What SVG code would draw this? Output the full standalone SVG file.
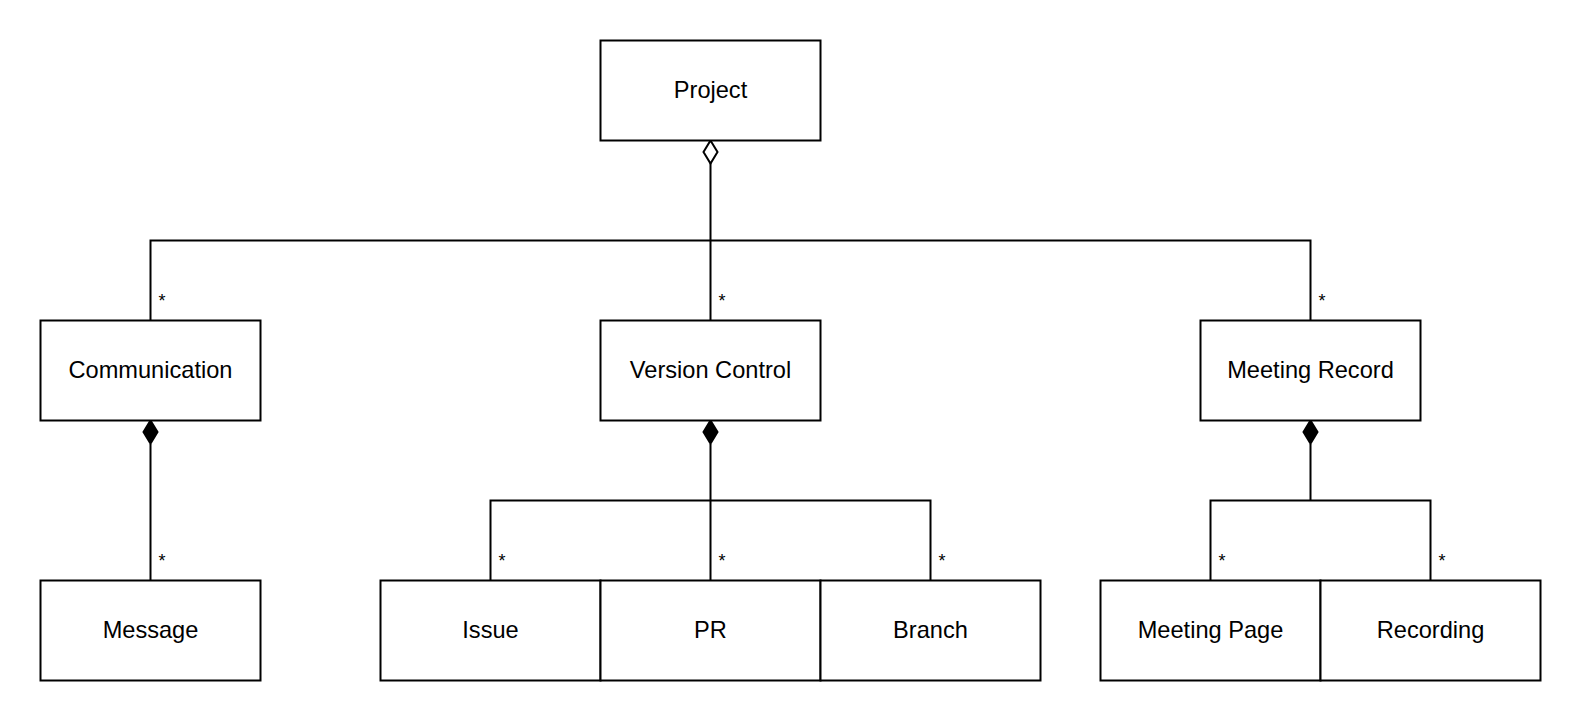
<svg xmlns="http://www.w3.org/2000/svg" width="1582" height="722" viewBox="0 0 1582 722">
<style>
.box{fill:#fff;stroke:#000;stroke-width:2}
.lbl{font-family:"Liberation Sans",Arial,sans-serif;font-size:23.6px;fill:#000;text-anchor:middle}
.m{font-family:"Liberation Sans",Arial,sans-serif;font-size:18px;fill:#000}
.ln{fill:none;stroke:#000;stroke-width:2}
.od{fill:#fff;stroke:#000;stroke-width:2}
.fd{fill:#000;stroke:#000;stroke-width:2}
</style>
<rect width="1582" height="722" fill="#fff"/>
<g id="connectors">
  <path class="ln" d="M710.5 163 V240.5 M150.5 320.5 V240.5 H1310.5 V320.5 M710.5 240.5 V320.5"/>
  <path class="od" d="M710.5 140.5 L717.5 152 L710.5 163.5 L703.5 152 Z"/>
  <path class="ln" d="M150.5 444 V580.5"/>
  <path class="fd" d="M150.5 420.5 L157.5 432 L150.5 443.5 L143.5 432 Z"/>
  <path class="ln" d="M710.5 444 V580.5 M490.5 580.5 V500.5 H930.5 V580.5"/>
  <path class="fd" d="M710.5 420.5 L717.5 432 L710.5 443.5 L703.5 432 Z"/>
  <path class="ln" d="M1310.5 444 V500.5 M1210.5 580.5 V500.5 H1430.5 V580.5"/>
  <path class="fd" d="M1310.5 420.5 L1317.5 432 L1310.5 443.5 L1303.5 432 Z"/>
  <text class="m" x="158.5" y="307">*</text>
  <text class="m" x="718.5" y="307">*</text>
  <text class="m" x="1318.5" y="307">*</text>
  <text class="m" x="158.5" y="567">*</text>
  <text class="m" x="498.5" y="567">*</text>
  <text class="m" x="718.5" y="567">*</text>
  <text class="m" x="938.5" y="567">*</text>
  <text class="m" x="1218.5" y="567">*</text>
  <text class="m" x="1438.5" y="567">*</text>
</g>
<g id="project"><rect class="box" x="600.5" y="40.5" width="220" height="100"/><text class="lbl" x="710.5" y="98">Project</text></g>
<g id="communication"><rect class="box" x="40.5" y="320.5" width="220" height="100"/><text class="lbl" x="150.5" y="378">Communication</text></g>
<g id="version-control"><rect class="box" x="600.5" y="320.5" width="220" height="100"/><text class="lbl" x="710.5" y="378">Version Control</text></g>
<g id="meeting-record"><rect class="box" x="1200.5" y="320.5" width="220" height="100"/><text class="lbl" x="1310.5" y="378">Meeting Record</text></g>
<g id="message"><rect class="box" x="40.5" y="580.5" width="220" height="100"/><text class="lbl" x="150.5" y="638">Message</text></g>
<g id="issue"><rect class="box" x="380.5" y="580.5" width="220" height="100"/><text class="lbl" x="490.5" y="638">Issue</text></g>
<g id="pr"><rect class="box" x="600.5" y="580.5" width="220" height="100"/><text class="lbl" x="710.5" y="638">PR</text></g>
<g id="branch"><rect class="box" x="820.5" y="580.5" width="220" height="100"/><text class="lbl" x="930.5" y="638">Branch</text></g>
<g id="meeting-page"><rect class="box" x="1100.5" y="580.5" width="220" height="100"/><text class="lbl" x="1210.5" y="638">Meeting Page</text></g>
<g id="recording"><rect class="box" x="1320.5" y="580.5" width="220" height="100"/><text class="lbl" x="1430.5" y="638">Recording</text></g>
</svg>
